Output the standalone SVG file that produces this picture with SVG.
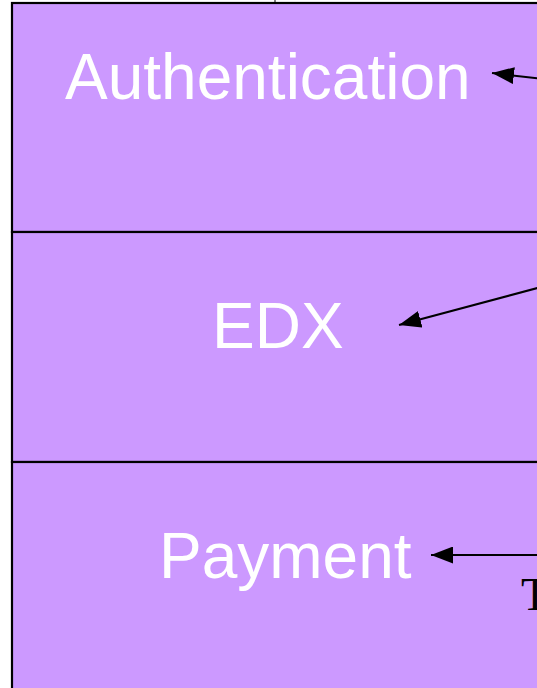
<svg xmlns="http://www.w3.org/2000/svg" width="537" height="688" viewBox="0 0 537 688">
<style>
.box{fill:#CC99FF;stroke:#000;stroke-width:2.2}
.lbl{font-family:"Liberation Sans",Arial,sans-serif;font-size:64px;fill:#fff}
.conn{stroke:#000;stroke-width:2;fill:none;marker-end:url(#ah)}
</style>
<defs>
<marker id="ah" markerUnits="userSpaceOnUse" viewBox="0 0 22 17" markerWidth="22" markerHeight="17" refX="22" refY="8.5" orient="auto">
<path d="M0,0 L22,8.5 L0,17 z" fill="#000"/>
</marker>
</defs>
<line x1="275" y1="0" x2="275" y2="3" stroke="#000" stroke-width="1"/>
<g id="auth">
<rect class="box" x="12" y="3" width="560" height="229"/>
<text class="lbl" x="65" y="99">Authentication</text>
</g>
<g id="edx">
<rect class="box" x="12" y="232" width="560" height="230"/>
<text class="lbl" x="212" y="348">EDX</text>
</g>
<g id="payment">
<rect class="box" x="12" y="462" width="560" height="240"/>
<text class="lbl" x="159" y="578">Payment</text>
</g>
<g id="connectors">
<line class="conn" x1="560" y1="81" x2="492" y2="73"/>
<line class="conn" x1="560" y1="282" x2="399" y2="325"/>
<line class="conn" x1="560" y1="555" x2="431" y2="555"/>
</g>
<text x="521" y="610" font-family="'Liberation Serif','Times New Roman',serif" font-size="46" fill="#000">T</text>
</svg>
